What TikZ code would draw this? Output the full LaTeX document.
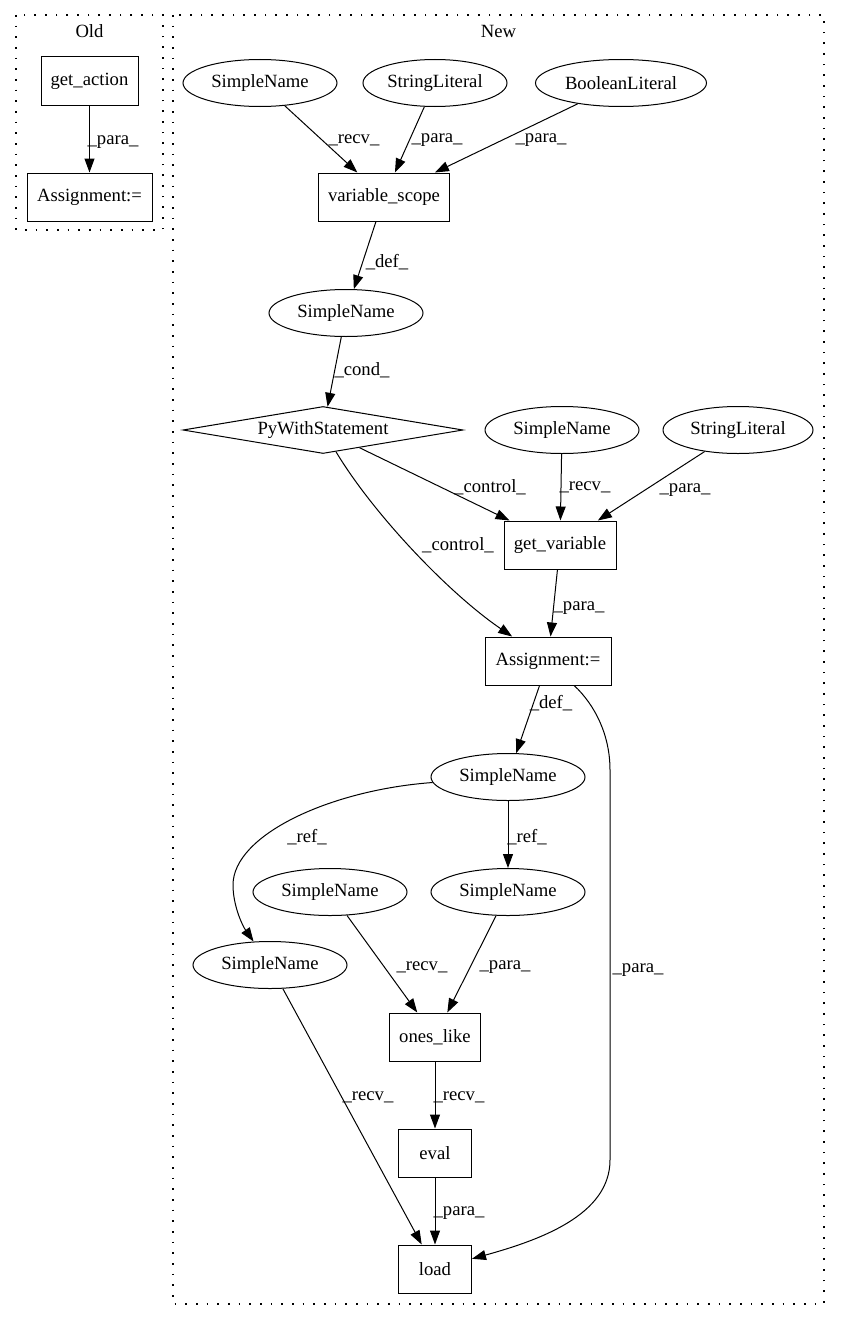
\documentclass[tikz,border=0pt]{standalone}
\usepackage{fontspec}
\setmainfont{Liberation Serif}
\usetikzlibrary{arrows.meta,shapes.geometric}
\tikzset{
  every node/.style={font=\fontsize{14}{16}\selectfont},
  boxnode/.style={draw, rectangle, line width=0.75pt, minimum height=36pt, inner sep=0pt},
  ellnode/.style={draw, ellipse, line width=0.75pt, minimum width=115.5pt, minimum height=35.25pt, inner sep=0pt},
  dianode/.style={draw, diamond, aspect=6, line width=0.75pt, minimum width=210pt, minimum height=35.25pt, inner sep=0pt},
  edge/.style={-{Triangle[length=10.5pt,width=7.5pt]}, line width=0.75pt},
  lbl/.style={inner sep=0pt},
  cluster/.style={line width=1pt, dash pattern=on 1.2pt off 6.8pt}
}
\begin{document}
\begin{tikzpicture}[x=0.75pt,y=-0.75pt]
\useasboundingbox (0,0) rectangle (840,1320);
% clusters
\draw[cluster] (16,15) rectangle (163,230);
\node[lbl] (oldlbl) at (89.5,31) {Old};
\draw[cluster] (173,15) rectangle (824,1304);
\node[lbl] (newlbl) at (498.5,31) {New};

% Old
\node[boxnode, minimum width=72.75pt] (ga) at (89.5,81) {get\_action};
\node[boxnode, minimum width=93.75pt] (aold) at (89.5,197) {Assignment:=};
\draw[edge] (ga) -- (aold);
\node[lbl] (l0) at (113,142) {\_para\_};

% New
\node[ellnode] (sn1) at (260,83) {SimpleName};
\node[ellnode, minimum width=108pt] (sl1) at (435,83) {StringLiteral};
\node[ellnode, minimum width=128.25pt] (bl) at (621,83) {BooleanLiteral};
\node[boxnode, minimum width=98.25pt] (vs) at (384,197) {variable\_scope};
\node[ellnode] (sn2) at (346,313) {SimpleName};
\node[dianode] (pws) at (323,430) {PyWithStatement};
\node[ellnode] (sn3) at (562,430) {SimpleName};
\node[ellnode, minimum width=112.5pt] (sl2) at (738,430) {StringLiteral};
\node[boxnode, minimum width=84pt] (gv) at (560,545) {get\_variable};
\node[boxnode, minimum width=94.5pt] (asg) at (548,661) {Assignment:=};
\node[ellnode] (sn4) at (508,777) {SimpleName};
\node[ellnode] (sn5) at (508,892) {SimpleName};
\node[ellnode] (sn6) at (330,892) {SimpleName};
\node[ellnode] (sn7) at (270,965) {SimpleName};
\node[boxnode, minimum width=68.25pt] (ol) at (435,1037) {ones\_like};
\node[boxnode, minimum width=54.75pt] (ev) at (435,1153) {eval};
\node[boxnode, minimum width=54.75pt] (ld) at (435,1269) {load};

% edges
\draw[edge] (sn1) -- (vs);
\node[lbl] (l1) at (354,140) {\_recv\_};
\draw[edge] (sl1) -- (vs);
\node[lbl] (l2) at (437,140) {\_para\_};
\draw[edge] (bl) -- (vs);
\node[lbl] (l3) at (541,140) {\_para\_};
\draw[edge] (vs) -- (sn2);
\node[lbl] (l4) at (387,262) {\_def\_};
\draw[edge] (sn2) -- (pws);
\node[lbl] (l5) at (362,370) {\_cond\_};
\draw[edge] (pws) -- (gv);
\node[lbl] (l6) at (490,487) {\_control\_};
\draw[edge] (pws) .. controls (372,512) and (447,592) .. (asg);
\node[lbl] (l7) at (458,545) {\_control\_};
\draw[edge] (sn3) -- (gv);
\node[lbl] (l8) at (585,487) {\_recv\_};
\draw[edge] (sl2) -- (gv);
\node[lbl] (l9) at (685,490) {\_para\_};
\draw[edge] (gv) -- (asg);
\node[lbl] (l10) at (579,608) {\_para\_};
\draw[edge] (asg) -- (sn4);
\node[lbl] (l11) at (551,703) {\_def\_};
\draw[edge] (asg) .. controls (595,705) and (610,735) .. (610,770) -- (610,1160) .. controls (610,1215) and (540,1240) .. (ld);
\node[lbl] (l12) at (638,970) {\_para\_};
\draw[edge] (sn4) -- (sn5);
\node[lbl] (l13) at (527,837) {\_ref\_};
\draw[edge] (sn4) .. controls (330,790) and (233,835) .. (233,885) .. controls (233,905) and (242,925) .. (sn7);
\node[lbl] (l14) at (307,837) {\_ref\_};
\draw[edge] (sn6) -- (ol);
\node[lbl] (l15) at (422,967) {\_recv\_};
\draw[edge] (sn5) -- (ol);
\node[lbl] (l16) at (505,967) {\_para\_};
\draw[edge] (sn7) -- (ld);
\node[lbl] (l17) at (368,1097) {\_recv\_};
\draw[edge] (ol) -- (ev);
\node[lbl] (l18) at (459,1097) {\_recv\_};
\draw[edge] (ev) -- (ld);
\node[lbl] (l19) at (459,1213) {\_para\_};
\end{tikzpicture}
\end{document}
